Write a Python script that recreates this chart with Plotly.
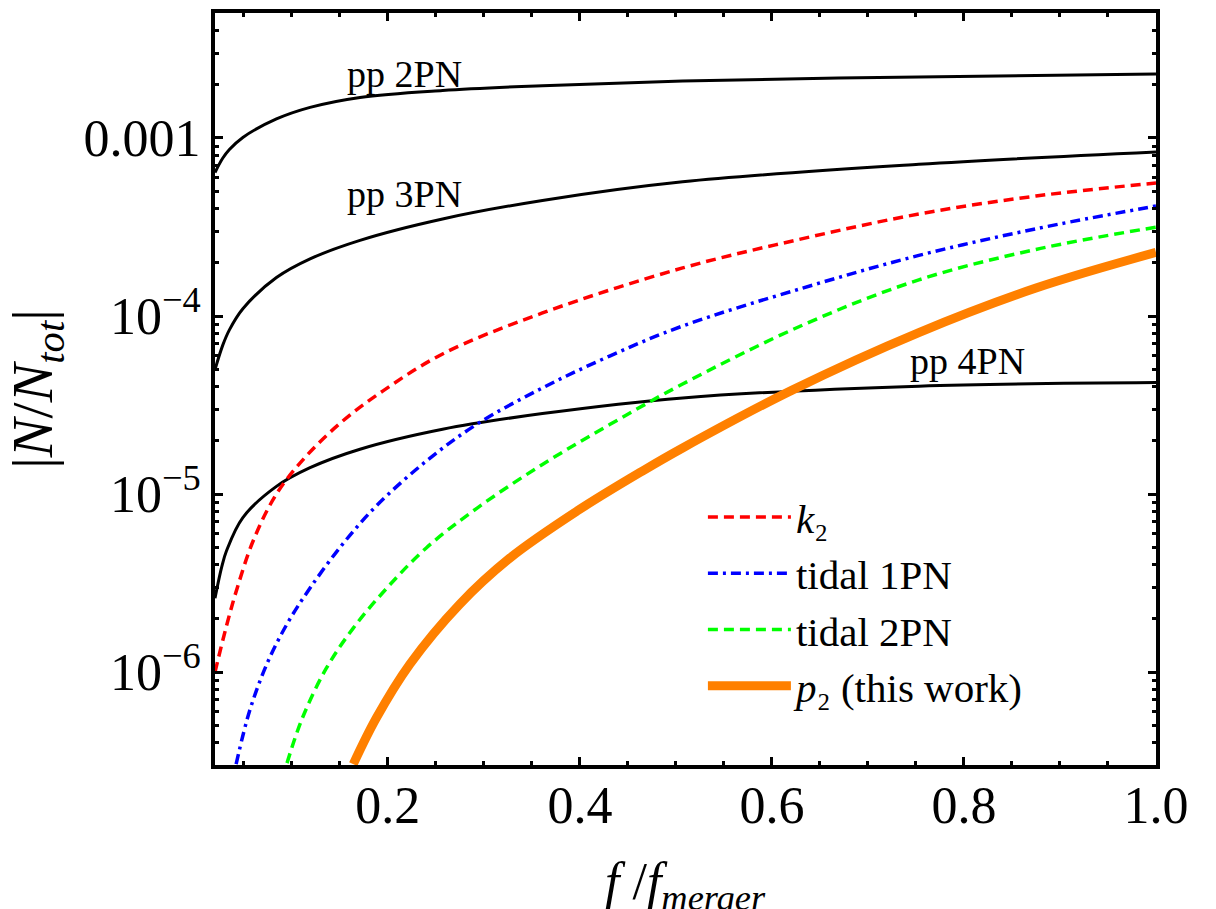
import math
import plotly.graph_objects as go

# ---- data (x = f/f_merger, y = |N/N_tot|) ----
x_pp2 = [0.02, 0.028, 0.035, 0.049, 0.084, 0.119, 0.171, 0.257, 0.361, 0.507, 0.753, 1.0]
y_pp2 = [6.4e-4, 7.69e-4, 8.61e-4, 1.007e-3, 1.279e-3, 1.486e-3, 1.69e-3, 1.849e-3, 1.968e-3, 2.089e-3, 2.203e-3, 2.291e-3]

x_pp3 = [0.02, 0.028, 0.035, 0.049, 0.084, 0.119, 0.171, 0.257, 0.361, 0.507, 0.753, 1.0]
y_pp3 = [5.0e-5, 6.84e-5, 8.36e-5, 1.099e-4, 1.644e-4, 2.094e-4, 2.661e-4, 3.508e-4, 4.457e-4, 5.675e-4, 7.11e-4, 8.34e-4]

x_pp4 = [0.02, 0.027, 0.032, 0.049, 0.084, 0.119, 0.171, 0.257, 0.361, 0.507, 0.753, 1.0]
y_pp4 = [2.6e-6, 3.9e-6, 4.8e-6, 7.38e-6, 1.104e-5, 1.406e-5, 1.786e-5, 2.312e-5, 2.831e-5, 3.467e-5, 4.036e-5, 4.227e-5]

x_k2 = [0.02, 0.032, 0.043, 0.06, 0.084, 0.115, 0.153, 0.195, 0.257, 0.361, 0.507, 0.632, 0.753, 0.875, 1.0]
y_k2 = [1.0e-6, 1.82e-6, 2.95e-6, 5.5e-6, 1.0e-5, 1.633e-5, 2.57e-5, 3.8e-5, 6.12e-5, 1.04e-4, 1.862e-4, 2.72e-4, 3.74e-4, 4.72e-4, 5.585e-4]

x_t1 = [0.042, 0.056, 0.074, 0.095, 0.119, 0.153, 0.188, 0.24, 0.293, 0.361, 0.431, 0.507, 0.632, 0.753, 0.875, 1.0]
y_t1 = [3.04e-7, 6.04e-7, 1.109e-6, 1.862e-6, 2.965e-6, 5.236e-6, 8.57e-6, 1.531e-5, 2.472e-5, 3.945e-5, 5.957e-5, 8.79e-5, 1.435e-4, 2.19e-4, 3.09e-4, 4.15e-4]

x_t2 = [0.095, 0.111, 0.136, 0.164, 0.199, 0.24, 0.293, 0.361, 0.431, 0.507, 0.632, 0.753, 0.875, 1.0]
y_t2 = [3.08e-7, 5.52e-7, 1.052e-6, 1.766e-6, 2.965e-6, 4.977e-6, 8.34e-6, 1.466e-5, 2.455e-5, 4.15e-5, 8.89e-5, 1.596e-4, 2.366e-4, 3.155e-4]

x_p2 = [0.164, 0.188, 0.223, 0.275, 0.327, 0.397, 0.466, 0.507, 0.62, 0.753, 0.875, 1.0]
y_p2 = [3.04e-7, 5.52e-7, 1.109e-6, 2.41e-6, 4.365e-6, 8.02e-6, 1.355e-5, 1.815e-5, 3.81e-5, 8.07e-5, 1.435e-4, 2.275e-4]

y_tickvals = [1e-6, 1e-5, 1e-4, 1e-3]
y_ticktext = ["10<sup>\u22126</sup>", "10<sup>\u22125</sup>", "10<sup>\u22124</sup>", "0.001"]
x_tickvals = [0.2, 0.4, 0.6, 0.8, 1.0]
x_ticktext = ["0.2", "0.4", "0.6", "0.8", "1.0"]

pp_labels = ["pp 2PN", "pp 3PN", "pp 4PN"]
pp_label_x = [0.217, 0.217, 0.804]
pp_label_y = [2.29e-3, 4.84e-4, 5.58e-5]

FONT = "Liberation Serif, Times New Roman, serif"

fig = go.Figure()

for xs, ys in [(x_pp2, y_pp2), (x_pp3, y_pp3), (x_pp4, y_pp4)]:
    fig.add_trace(go.Scatter(x=xs, y=ys, mode="lines", showlegend=False,
                             line=dict(color="black", width=3, shape="spline")))

fig.add_trace(go.Scatter(x=x_k2, y=y_k2, mode="lines", name="<i>k</i>\u2082",
                         line=dict(color="#ff0000", width=3.5, dash="10px,6px", shape="spline")))
fig.add_trace(go.Scatter(x=x_t1, y=y_t1, mode="lines", name="tidal 1PN",
                         line=dict(color="#0000ff", width=3.5, dash="10px,5px,3px,5px", shape="spline")))
fig.add_trace(go.Scatter(x=x_t2, y=y_t2, mode="lines", name="tidal 2PN",
                         line=dict(color="#00ff00", width=3.5, dash="10px,6px", shape="spline")))
fig.add_trace(go.Scatter(x=x_p2, y=y_p2, mode="lines", name="<i>p</i>\u2082 (this work)",
                         line=dict(color="#ff8000", width=9, shape="spline")))

for t, xx, yy in zip(pp_labels, pp_label_x, pp_label_y):
    fig.add_annotation(x=xx, y=math.log10(yy), xref="x", yref="y", text=t, showarrow=False,
                       font=dict(family=FONT, size=38, color="black"))

# x-axis title, placed as text below the tick labels (partly cut by the page edge, as in the reference)
fig.add_annotation(x=0.5, y=-0.114, xref="paper", yref="paper", xanchor="center", yanchor="top",
                   text="<i>f</i> /<i>f</i><sub><i>merger</i></sub>", showarrow=False,
                   font=dict(family=FONT, size=52, color="black"))

minor_y = [k * 10.0 ** e for e in range(-7, -2) for k in range(2, 10)]

fig.update_xaxes(range=[0.02, 1.0], tickvals=x_tickvals, ticktext=x_ticktext,
                 ticks="inside", ticklen=8, tickwidth=3, tickcolor="black",
                 showline=True, linewidth=4, linecolor="black", mirror="ticks",
                 showgrid=False, zeroline=False, ticklabelstandoff=-8, automargin=False,
                 minor=dict(dtick=0.05, tick0=0, ticks="inside", ticklen=4, tickwidth=3,
                            tickcolor="black", showgrid=False),
                 tickfont=dict(family=FONT, size=52, color="black"))

fig.update_yaxes(type="log", range=[-6.522, -2.298], tickvals=y_tickvals, ticktext=y_ticktext,
                 ticks="inside", ticklen=8, tickwidth=3, tickcolor="black",
                 showline=True, linewidth=4, linecolor="black", mirror="ticks",
                 showgrid=False, zeroline=False, automargin=False,
                 minor=dict(tickvals=minor_y, ticks="inside", ticklen=4, tickwidth=3,
                            tickcolor="black", showgrid=False),
                 tickfont=dict(family=FONT, size=52, color="black"),
                 title=dict(text="|<i>N</i>/<i>N</i><sub><i>tot</i></sub>|",
                            font=dict(family=FONT, size=58, color="black"), standoff=20))

fig.update_layout(width=1216, height=909, margin=dict(l=215, r=60, t=13, b=144, autoexpand=False),
                  plot_bgcolor="white", paper_bgcolor="white",
                  font=dict(family=FONT, color="black"),
                  legend=dict(x=0.5185, y=0.374, xanchor="left", yanchor="top",
                              bgcolor="rgba(0,0,0,0)", itemwidth=83,
                              font=dict(family=FONT, size=41, color="black")))

fig.write_html("out.html")
